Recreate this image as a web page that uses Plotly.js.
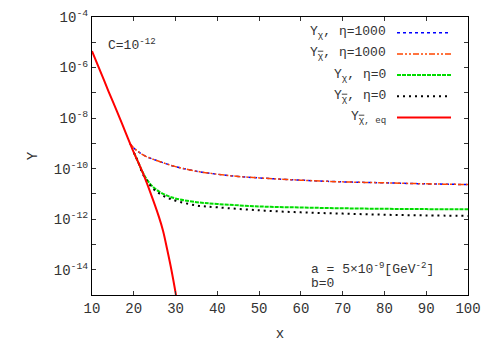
<!DOCTYPE html>
<html><head><meta charset="utf-8">
<script src="https://cdn.plot.ly/plotly-3.0.1.min.js"></script>
<style>html,body{margin:0;padding:0;background:#fff}#c{width:491px;height:343px}</style>
</head><body><div id="c"></div>
<script>
// data
const xEq = [10,12,14,16,18,20,22,24,26,27,28,29,30.1,30.4];
const yEq = [4.5e-6,7.1e-7,1.1e-7,1.8e-8,2.8e-9,4.4e-10,7.9e-11,1.1e-11,1.26e-12,3.5e-13,6.3e-14,1.0e-14,1.0e-15,5e-16];
const xEta1000 = [19,20,21,22,23,25,28,30,35,40,45,50,60,70,80,90,100];
const yChi1000 = [1.0e-9,6.6e-10,4.8e-10,3.7e-10,3.0e-10,2.24e-10,1.51e-10,1.2e-10,7.9e-11,6.0e-11,4.9e-11,4.3e-11,3.5e-11,3.0e-11,2.75e-11,2.5e-11,2.35e-11];
const yChiBar1000 = [1.0e-9,6.6e-10,4.8e-10,3.7e-10,3.0e-10,2.24e-10,1.51e-10,1.2e-10,7.9e-11,6.0e-11,4.9e-11,4.3e-11,3.5e-11,3.0e-11,2.75e-11,2.5e-11,2.35e-11];
const xEta0 = [20,21,22,23,24,25,26,28,30,35,40,50,60,70,80,90,100];
const yChi0 = [4.4e-10,1.9e-10,7.9e-11,4.0e-11,2.4e-11,1.66e-11,1.26e-11,8.5e-12,6.6e-12,4.7e-12,4.0e-12,3.2e-12,2.9e-12,2.7e-12,2.57e-12,2.5e-12,2.45e-12];
const yChiBar0 = [4.4e-10,1.9e-10,7.1e-11,3.5e-11,2.1e-11,1.4e-11,1.07e-11,7.1e-12,5.4e-12,3.5e-12,2.95e-12,2.24e-12,1.86e-12,1.66e-12,1.5e-12,1.41e-12,1.35e-12];

const chiBar = "<span style='text-decoration:overline'>χ</span>";
const seriesNames = ["Y<sub>χ</sub>, η=1000","Y<sub>"+chiBar+"</sub>, η=1000","Y<sub>χ</sub>, η=0","Y<sub>"+chiBar+"</sub>, η=0","Y<sub>"+chiBar+", eq</sub>"];
const xTickVals = [10,20,30,40,50,60,70,80,90,100];
const yTickExps = [-15,-14,-13,-12,-11,-10,-9,-8,-7,-6,-5,-4];

const styles = [
  {color:'#0000ff', dash:'dot', width:1.5},
  {color:'#ff4500', dash:'6px,2px,2px,2px,2px,2px', width:1.5},
  {color:'#00dd00', dash:'4px,1px', width:2},
  {color:'#000000', dash:'2px,4px', width:2},
  {color:'#ff0000', dash:'solid', width:2}
];
const xs = [xEta1000,xEta1000,xEta0,xEta0,xEq];
const ys = [yChi1000,yChiBar1000,yChi0,yChiBar0,yEq];
const traces = xs.map((x,i)=>({x:x,y:ys[i],type:'scatter',mode:'lines',name:seriesNames[i],
  line:{color:styles[i].color,dash:styles[i].dash,width:styles[i].width,shape:'spline'},showlegend:false}));

const F = "Liberation Mono, monospace";
const annotations = [];
const shapes = [];
const legTop = 32.7, legStep = 21.2, H = 343, W = 491;
const plotL=92, plotR=468, plotT=17, plotB=295;
const pw = plotR-plotL, ph = plotB-plotT;
seriesNames.forEach((n,i)=>{
  const yp = legTop + i*legStep;
  const yn = 1-(yp-plotT)/ph;
  annotations.push({xref:'paper',yref:'paper',x:(388-plotL)/pw,y:yn,xanchor:'right',yanchor:'middle',
    text:n,showarrow:false,font:{family:F,size:13,color:'#333'}});
  shapes.push({type:'line',xref:'paper',yref:'paper',x0:(397-plotL)/pw,x1:(451-plotL)/pw,y0:yn,y1:yn,
    line:{color:styles[i].color,dash:styles[i].dash,width:styles[i].width}});
});
annotations.push({xref:'paper',yref:'paper',x:(106-plotL)/pw,y:1-(44-plotT)/ph,xanchor:'left',yanchor:'middle',
  text:'C=10<sup>-12</sup>',showarrow:false,font:{family:F,size:13,color:'#333'}});
annotations.push({xref:'paper',yref:'paper',x:(309-plotL)/pw,y:1-(268-plotT)/ph,xanchor:'left',yanchor:'middle',
  text:'a = 5×10<sup>-9</sup>[GeV<sup>-2</sup>]',showarrow:false,font:{family:F,size:13,color:'#333'}});
annotations.push({xref:'paper',yref:'paper',x:(309-plotL)/pw,y:1-(283-plotT)/ph,xanchor:'left',yanchor:'middle',
  text:'b=0',showarrow:false,font:{family:F,size:13,color:'#333'}});

const layout = {
  width:W,height:H,margin:{l:plotL,r:W-plotR,t:plotT,b:H-plotB},
  paper_bgcolor:'#fff',plot_bgcolor:'#fff',showlegend:false,
  font:{family:F,size:13,color:'#333'},
  xaxis:{range:[10,100],tickvals:xTickVals,ticks:'inside',ticklen:4,tickcolor:'#333',
    showline:true,linecolor:'#000',linewidth:1,mirror:'ticks',showgrid:false,zeroline:false,
    tickfont:{family:F,size:14,color:'#333'},
    title:{text:'x',font:{family:F,size:14,color:'#333'},standoff:12}},
  yaxis:{type:'log',range:[-15,-4],tickvals:yTickExps.map(e=>Math.pow(10,e)),
    ticktext:yTickExps.map(e=> e%2===0 ? '10<sup>'+e+'</sup>' : ''),
    ticks:'inside',ticklen:4,tickcolor:'#333',showline:true,linecolor:'#000',linewidth:1,mirror:'ticks',
    showgrid:false,zeroline:false,tickfont:{family:F,size:14,color:'#333'},
    title:{text:'Y',font:{family:F,size:14,color:'#333'},standoff:12}},
  annotations:annotations,shapes:shapes
};
Plotly.newPlot('c',traces,layout,{staticPlot:true,displayModeBar:false});
</script></body></html>
